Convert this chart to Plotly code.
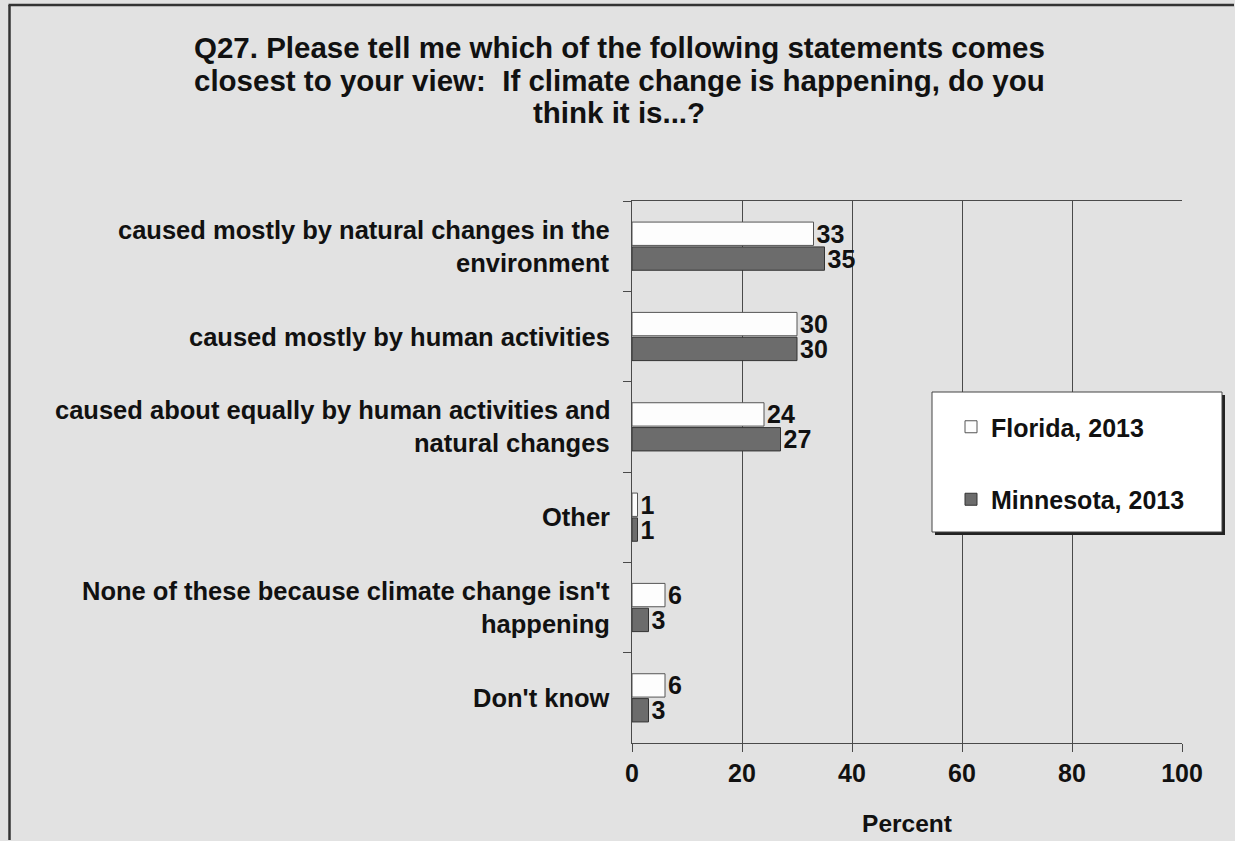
import plotly.graph_objects as go

# Survey responses (percent)
categories = [
    "caused mostly by natural changes in the environment",
    "caused mostly by human activities",
    "caused about equally by human activities and natural changes",
    "Other",
    "None of these because climate change isn't happening",
    "Don't know",
]
# How each category label is broken across lines
category_lines = [
    ["caused mostly by natural changes in the", "environment"],
    ["caused mostly by human activities"],
    ["caused about equally by human activities and", "natural changes"],
    ["Other"],
    ["None of these because climate change isn't", "happening"],
    ["Don't know"],
]
florida_2013 = [33, 30, 24, 1, 6, 6]
minnesota_2013 = [35, 30, 27, 1, 3, 3]
series_names = ["Florida, 2013", "Minnesota, 2013"]
x_ticks = [0, 20, 40, 60, 80, 100]
title_lines = [
    "Q27. Please tell me which of the following statements comes",
    "closest to your view:  If climate change is happening, do you",
    "think it is...?",
]
x_title = "Percent"

W, H = 1235, 841
ML, MR, MT, MB = 632, 53, 201, 98
PW, PH = W - ML - MR, H - MT - MB

def px_x(p):
    return (p - ML) / PW

def px_y(p):
    return (H - MB - p) / PH

FONT = "Liberation Sans, Arial, sans-serif"
BG = "#E2E2E2"
LINE = "#4A4A4A"
TXT = "#111111"

fig = go.Figure()
fig.add_trace(go.Bar(
    y=categories, x=florida_2013, name=f"<b>{series_names[0]}</b>", orientation="h",
    marker=dict(color="#FDFDFD", line=dict(color="#555555", width=1)),
    text=[f"<b>{v}</b>" for v in florida_2013], textposition="outside",
    textfont=dict(family=FONT, size=25, color=TXT),
    legendgroup="a", cliponaxis=False, constraintext="none",
))
fig.add_trace(go.Bar(
    y=categories, x=minnesota_2013, name=f"<b>{series_names[1]}</b>", orientation="h",
    marker=dict(color="#6C6C6C", line=dict(color="#333333", width=1)),
    text=[f"<b>{v}</b>" for v in minnesota_2013], textposition="outside",
    textfont=dict(family=FONT, size=25, color=TXT),
    legendgroup="b", cliponaxis=False, constraintext="none",
))

annotations = []
# Title, one annotation per line
for i, line in enumerate(title_lines):
    annotations.append(dict(
        text=f"<b>{line}</b>", xref="paper", yref="paper",
        x=px_x(619), y=px_y(47 + 33 * i), xanchor="center", yanchor="middle",
        showarrow=False, font=dict(family=FONT, size=29.5, color=TXT),
    ))
# Category labels, centred lines, right edge next to the axis
for cat, lines in zip(categories, category_lines):
    n = len(lines)
    for j, line in enumerate(lines):
        annotations.append(dict(
            text=f"<b>{line}</b>", xref="paper", yref="y",
            x=px_x(612), y=cat, xanchor="right", yanchor="middle", align="center",
            yshift=((n - 1) / 2 - j) * 33,
            showarrow=False, font=dict(family=FONT, size=25.5, color=TXT),
        ))
fig.update_layout(annotations=annotations)

shapes = [
    # outer chart frame: top edge as a thin filled band, left edge as a line
    dict(type="rect", xref="paper", yref="paper",
         x0=px_x(8.5), x1=px_x(W - 1), y0=px_y(6.3), y1=px_y(3.8),
         line=dict(width=0), fillcolor="#333333", layer="below"),
    dict(type="line", xref="paper", yref="paper",
         x0=px_x(9.5), x1=px_x(9.5), y0=px_y(5), y1=px_y(H - 1),
         line=dict(color="#333333", width=2.5), layer="below"),
    # legend shadow and box
    dict(type="rect", xref="paper", yref="paper",
         x0=px_x(935), x1=px_x(1225), y0=px_y(535), y1=px_y(395),
         line=dict(width=0), fillcolor="#222222", layer="above"),
    dict(type="rect", xref="paper", yref="paper",
         x0=px_x(932), x1=px_x(1222), y0=px_y(532), y1=px_y(392),
         line=dict(color="#444444", width=1), fillcolor="#FFFFFF", layer="above"),
]

fig.update_layout(
    width=W, height=H,
    margin=dict(l=ML, r=MR, t=MT, b=MB, pad=0, autoexpand=False),
    paper_bgcolor=BG, plot_bgcolor=BG,
    font=dict(family=FONT, color=TXT),
    barmode="group", bargap=0.45, bargroupgap=0.06,
    shapes=shapes,
    showlegend=True,
    legend=dict(
        x=px_x(951), y=px_y(404), xanchor="left", yanchor="top",
        bgcolor="rgba(0,0,0,0)", borderwidth=0,
        traceorder="grouped", tracegroupgap=37,
        font=dict(family=FONT, size=25, color=TXT),
        itemwidth=30,
    ),
    xaxis=dict(
        range=[0, 100], tickvals=x_ticks, ticktext=[f"<b>{t}</b>" for t in x_ticks],
        showgrid=True, gridcolor=LINE, gridwidth=1,
        showline=True, linecolor=LINE, linewidth=1, mirror=True,
        ticks="outside", ticklen=8, tickcolor=LINE, tickwidth=1,
        tickfont=dict(family=FONT, size=25, color=TXT),
        title=dict(text=f"<b>{x_title}</b>", font=dict(family=FONT, size=24.5, color=TXT), standoff=28),
        zeroline=False, fixedrange=True, automargin=False,
    ),
    yaxis=dict(
        autorange="reversed", showticklabels=False,
        showline=True, linecolor=LINE, linewidth=1,
        ticks="outside", ticklen=8, tickcolor=LINE, tickson="boundaries",
        showgrid=False, fixedrange=True, automargin=False,
    ),
)

fig.write_html("out.html")
